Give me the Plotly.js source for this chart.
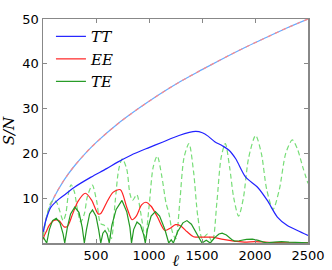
<!DOCTYPE html>
<html><head><meta charset="utf-8">
<script src="https://cdn.plot.ly/plotly-3.0.1.min.js"></script>
<style>html,body{margin:0;padding:0;background:#fff}#c{width:332px;height:270px}</style>
</head><body><div id="c"></div>
<script>
// cosmic-variance limit (TT and EE overlap)
const cvL = [2,10,25,50,100,200,300,400,500,700,900,1100,1300,1500,1700,1900,2100,2300,2500];
const cvV = [1.6,3.2,5.0,7.1,10.0,14.1,17.3,20.0,22.4,26.5,30.0,33.2,36.1,38.7,41.2,43.6,45.8,48.0,50.0];

// TT
const ttL = [2,30,75,150,217,300,453,600,700,830,1000,1126,1283,1440,1503,1560,1620,1692,1755,1818,1912,2022,2116,2211,2305,2400,2500];
const ttV = [2.5,5.3,8.0,9.8,11.0,12.5,14.7,16.6,18.0,19.6,21.3,22.5,24.0,24.9,24.6,23.8,22.6,21.7,20.7,18.8,14.7,12.5,9.5,5.8,3.9,2.8,1.7];

// EE
const eeL = [2,10,30,60,110,150,200,230,280,330,400,460,520,545,600,660,730,790,840,880,930,970,1020,1080,1150,1200,1250,1300,1360,1420,1500,1600,1700,1800,1900,2000,2100,2200,2500];
const eeV = [0.8,1.5,2.5,4.0,5.1,5.0,3.6,3.7,6.5,9.3,11.1,9.5,6.5,6.6,9.0,11.3,11.9,8.0,5.2,6.0,8.5,9.1,8.2,5.8,2.8,3.3,4.1,3.8,2.5,1.4,1.3,1.3,0.8,0.4,0.2,0.3,0.2,0.1,0.05];

// TE (experiment)
const teL = [2,15,35,60,90,125,160,190,205,230,260,300,340,370,390,410,440,467,500,525,545,565,585,605,625,650,690,745,790,820,835,855,887,920,950,965,985,1020,1060,1100,1150,1186,1210,1230,1270,1320,1358,1400,1450,1500,1540,1578,1620,1660,1690,1730,1780,1810,1850,1920,1975,2030,2080,2113,2180,2250,2320,2400,2500];
const teV = [1.3,0.8,0,3.0,5.0,5.5,4.5,2.0,0,3.5,6.5,8.0,6.8,3.5,0,3.0,6.5,7.4,6.0,3.0,0,2.2,2.8,2.0,0,4.0,7.5,9.5,7.0,3.5,0,3.0,4.7,4.0,1.8,0,3.0,6.0,7.0,6.0,3.0,0,0.7,0,2.5,4.5,5.0,4.2,2.2,0,0.6,0,1.2,2.0,2.2,1.8,0.8,0.4,0.5,0.8,0.85,0.6,0.2,0.05,0.2,0.3,0.2,0.1,0.05];

// TE (cosmic-variance limit)
const tecvL = [2,15,40,70,100,130,160,190,215,240,265,295,325,356,390,420,465,505,544,575,610,645,680,715,748,790,820,845,885,920,965,1000,1040,1078,1120,1160,1189,1220,1252,1290,1330,1377,1420,1460,1503,1550,1597,1640,1680,1720,1760,1800,1845,1890,1940,2006,2060,2110,2170,2230,2290,2352,2400,2450,2500];
const tecvV = [1.5,3.5,6.5,8.8,9.6,9.0,7.0,5.0,6.5,11.0,13.0,11.5,7.5,4.7,6.5,10.5,12.9,9.5,4.3,4.0,3.4,1.0,9.0,16.5,18.8,16.5,11.0,9.5,10.8,7.0,1.2,8.0,17.0,19.4,15.0,9.0,6.5,2.5,0.9,9.0,19.0,22.2,16.0,6.0,0.9,2.0,0.3,9.0,19.0,22.2,17.0,10.0,6.0,10.0,19.0,24.0,20.0,12.0,7.5,12.0,20.0,23.0,21.0,17.0,13.3];

const names = ['TT','EE','TE'];
const legendFont = {family:'DejaVu Serif', size:15, color:'#000', style:'italic'};
const titleFont = {family:'DejaVu Serif', size:15, color:'#000', style:'italic'};

const traces = [
  {x:cvL, y:cvV, mode:'lines', line:{color:'#66aaff', width:1.2, shape:'spline'}, showlegend:false, hoverinfo:'skip'},
  {x:cvL, y:cvV, mode:'lines', line:{color:'#ff8888', width:1.2, dash:'4px,4px', shape:'spline'}, showlegend:false, hoverinfo:'skip'},
  {x:tecvL, y:tecvV, mode:'lines', line:{color:'#77dd77', width:1.2, dash:'5px,3px', shape:'spline', smoothing:0.8}, showlegend:false},
  {x:ttL, y:ttV, mode:'lines', name:names[0], line:{color:'#2222ff', width:1.2, shape:'spline', smoothing:0.8}},
  {x:eeL, y:eeV, mode:'lines', name:names[1], line:{color:'#ff2222', width:1.2, shape:'spline', smoothing:0.8}},
  {x:teL, y:teV, mode:'lines', name:names[2], line:{color:'#229922', width:1.2}}
];

const axisCommon = {showgrid:false, zeroline:false, showline:true, linecolor:'#888', linewidth:1.5,
  ticks:'inside', ticklen:4, tickcolor:'#888', mirror:'ticks',
  tickfont:{family:'DejaVu Sans', size:13, color:'#000'}};

const layout = {
  width:332, height:270,
  margin:{l:43, r:24, t:19, b:27},
  paper_bgcolor:'#fff', plot_bgcolor:'#fff',
  showlegend:true,
  legend:{x:0.03, y:0.995, xanchor:'left', yanchor:'top', bgcolor:'rgba(0,0,0,0)', borderwidth:0,
    font:legendFont, itemwidth:30, traceorder:'normal'},
  xaxis:Object.assign({}, axisCommon, {range:[0,2500], tickvals:[500,1000,1500,2000,2500],
    title:{text:'ℓ', font:{family:'DejaVu Serif', size:16, color:'#000', style:'italic'}, standoff:1}}),
  yaxis:Object.assign({}, axisCommon, {range:[0,50], tickvals:[10,20,30,40,50],
    title:{text:'S/N', font:titleFont, standoff:7}})
};

Plotly.newPlot('c', traces, layout, {displayModeBar:false, staticPlot:true});
</script></body></html>
